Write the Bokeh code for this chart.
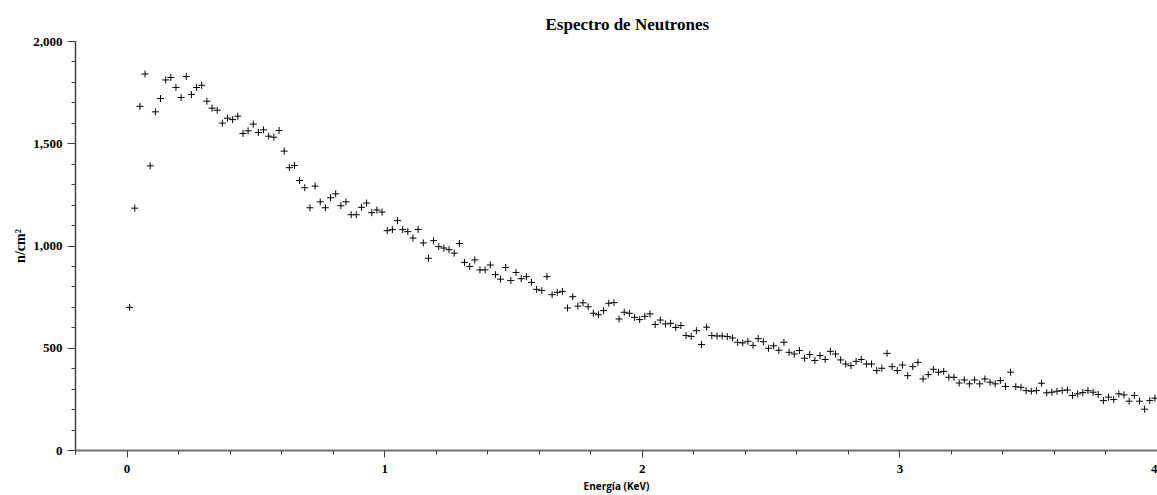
from bokeh.plotting import figure
from bokeh.models import Range1d, NumeralTickFormatter, FixedTicker, Title
from bokeh.embed import file_html
from bokeh.resources import INLINE

# Energy (KeV)
energia = [
    0.01, 0.03, 0.05, 0.07, 0.09, 0.11, 0.13, 0.15, 0.17, 0.19,
    0.21, 0.23, 0.25, 0.27, 0.29, 0.31, 0.33, 0.35, 0.37, 0.39,
    0.41, 0.43, 0.45, 0.47, 0.49, 0.51, 0.53, 0.55, 0.57, 0.59,
    0.61, 0.63, 0.65, 0.67, 0.69, 0.71, 0.73, 0.75, 0.77, 0.79,
    0.81, 0.83, 0.85, 0.87, 0.89, 0.91, 0.93, 0.95, 0.97, 0.99,
    1.01, 1.03, 1.05, 1.07, 1.09, 1.11, 1.13, 1.15, 1.17, 1.19,
    1.21, 1.23, 1.25, 1.27, 1.29, 1.31, 1.33, 1.35, 1.37, 1.39,
    1.41, 1.43, 1.45, 1.47, 1.49, 1.51, 1.53, 1.55, 1.57, 1.59,
    1.61, 1.63, 1.65, 1.67, 1.69, 1.71, 1.73, 1.75, 1.77, 1.79,
    1.81, 1.83, 1.85, 1.87, 1.89, 1.91, 1.93, 1.95, 1.97, 1.99,
    2.01, 2.03, 2.05, 2.07, 2.09, 2.11, 2.13, 2.15, 2.17, 2.19,
    2.21, 2.23, 2.25, 2.27, 2.29, 2.31, 2.33, 2.35, 2.37, 2.39,
    2.41, 2.43, 2.45, 2.47, 2.49, 2.51, 2.53, 2.55, 2.57, 2.59,
    2.61, 2.63, 2.65, 2.67, 2.69, 2.71, 2.73, 2.75, 2.77, 2.79,
    2.81, 2.83, 2.85, 2.87, 2.89, 2.91, 2.93, 2.95, 2.97, 2.99,
    3.01, 3.03, 3.05, 3.07, 3.09, 3.11, 3.13, 3.15, 3.17, 3.19,
    3.21, 3.23, 3.25, 3.27, 3.29, 3.31, 3.33, 3.35, 3.37, 3.39,
    3.41, 3.43, 3.45, 3.47, 3.49, 3.51, 3.53, 3.55, 3.57, 3.59,
    3.61, 3.63, 3.65, 3.67, 3.69, 3.71, 3.73, 3.75, 3.77, 3.79,
    3.81, 3.83, 3.85, 3.87, 3.89, 3.91, 3.93, 3.95, 3.97, 3.99,
]

# Counts (n/cm^2)
cuentas = [
    700, 1185, 1683, 1841, 1392, 1656, 1721, 1812, 1824, 1775,
    1726, 1829, 1741, 1775, 1786, 1708, 1674, 1664, 1601, 1625,
    1618, 1635, 1550, 1563, 1596, 1555, 1568, 1537, 1532, 1565,
    1464, 1383, 1394, 1320, 1285, 1187, 1293, 1216, 1187, 1236,
    1255, 1197, 1216, 1153, 1153, 1189, 1210, 1163, 1176, 1166,
    1075, 1080, 1124, 1080, 1070, 1039, 1081, 1015, 940, 1026,
    997, 990, 982, 965, 1012, 920, 900, 932, 883, 883,
    907, 860, 838, 895, 831, 870, 840, 850, 822, 788,
    782, 850, 762, 773, 778, 697, 752, 706, 722, 703,
    671, 664, 684, 720, 723, 643, 676, 671, 651, 640,
    656, 668, 616, 638, 619, 622, 602, 611, 562, 558,
    586, 518, 603, 562, 560, 560, 557, 550, 529, 526,
    534, 514, 547, 532, 500, 512, 490, 529, 480, 472,
    489, 451, 469, 440, 464, 445, 485, 472, 443, 423,
    415, 436, 445, 423, 423, 391, 402, 475, 410, 391,
    418, 366, 410, 431, 350, 371, 397, 383, 387, 358,
    358, 330, 345, 326, 345, 326, 350, 334, 326, 342,
    313, 383, 312, 309, 293, 290, 293, 329, 282, 285,
    290, 293, 296, 269, 277, 283, 293, 285, 274, 244,
    261, 249, 277, 272, 241, 269, 241, 202, 244, 256,
]

x_ticks = [0, 1, 2, 3, 4]
x_minor = [-0.2, 0.2, 0.4, 0.6, 0.8, 1.2, 1.4, 1.6, 1.8, 2.2, 2.4, 2.6, 2.8, 3.2, 3.4, 3.6, 3.8]
y_ticks = [0, 500, 1000, 1500, 2000]
y_minor = [100, 200, 300, 400, 600, 700, 800, 900, 1100, 1200, 1300, 1400, 1600, 1700, 1800, 1900]

p = figure(width=1157, height=495, output_backend="svg", toolbar_location=None,
           x_range=Range1d(-0.2, 4.0), y_range=Range1d(0, 2000),
           min_border_left=75, min_border_right=0, min_border_top=41, min_border_bottom=45)

p.title = Title(text="Espectro de Neutrones", align="left", offset=470,
                text_font="Liberation Serif", text_font_style="bold",
                text_font_size="17px", text_color="black", standoff=15)

p.outline_line_color = None
p.xgrid.grid_line_color = None
p.ygrid.grid_line_color = None
p.background_fill_color = "white"
p.border_fill_color = "white"

p.scatter(energia, cuentas, marker="cross", size=7, line_color="black", line_width=1)

# X axis
xa = p.xaxis[0]
xa.ticker = FixedTicker(ticks=x_ticks, minor_ticks=x_minor)
xa.axis_label = "Energía (KeV)"
xa.axis_label_text_font = "Open Sans"
xa.axis_label_text_font_style = "bold"
xa.axis_label_text_font_size = "10px"
xa.axis_label_text_color = "black"
xa.axis_label_standoff = 3
xa.major_label_text_font = "Liberation Serif"
xa.major_label_text_font_style = "bold"
xa.major_label_text_font_size = "13px"
xa.major_label_text_color = "black"
xa.major_label_standoff = 7
xa.axis_line_color = "#707070"
xa.axis_line_width = 2
xa.major_tick_line_color = "#404040"
xa.minor_tick_line_color = "#404040"
xa.major_tick_out = 7
xa.major_tick_in = 0
xa.minor_tick_out = 4
xa.minor_tick_in = 0

# Y axis
ya = p.yaxis[0]
ya.ticker = FixedTicker(ticks=y_ticks, minor_ticks=y_minor)
ya.formatter = NumeralTickFormatter(format="0,0")
ya.axis_label = "n/cm²"
ya.axis_label_text_font = "Liberation Serif"
ya.axis_label_text_font_style = "bold"
ya.axis_label_text_font_size = "14px"
ya.axis_label_text_color = "black"
ya.axis_label_standoff = 2
ya.major_label_text_font = "Liberation Serif"
ya.major_label_text_font_style = "bold"
ya.major_label_text_font_size = "13px"
ya.major_label_text_color = "black"
ya.major_label_standoff = 5
ya.axis_line_color = "#404040"
ya.axis_line_width = 1.5
ya.major_tick_line_color = "#404040"
ya.minor_tick_line_color = "#404040"
ya.major_tick_out = 8
ya.major_tick_in = 0
ya.minor_tick_out = 4
ya.minor_tick_in = 0

open("out.html", "w").write(file_html(p, INLINE))
